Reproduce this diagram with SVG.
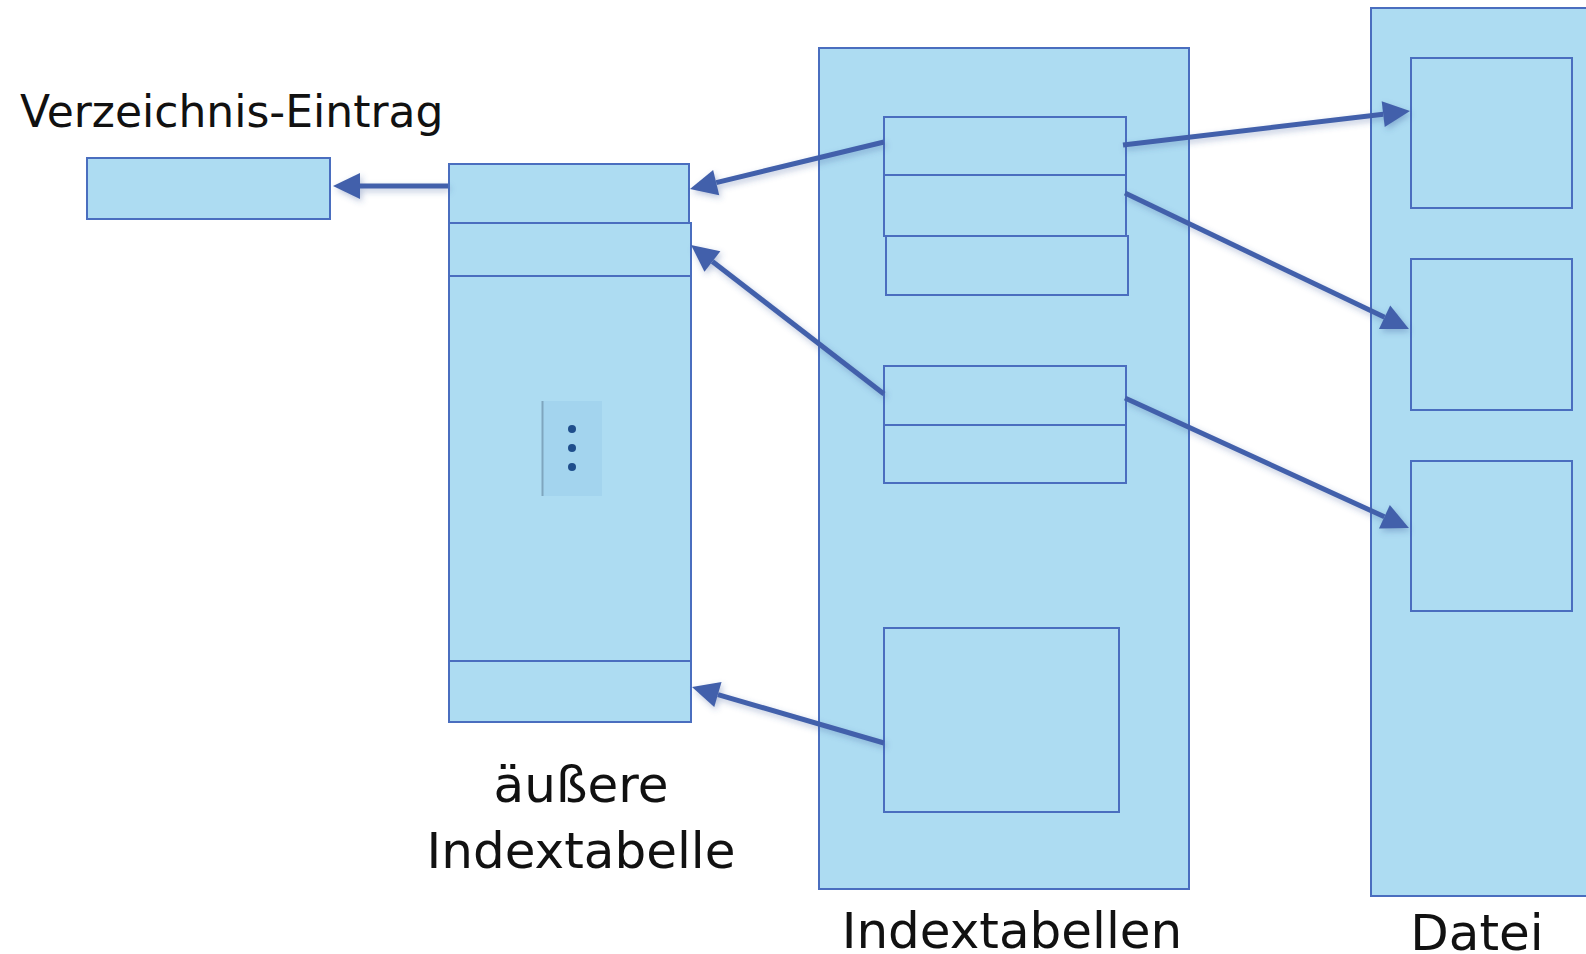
<svg xmlns="http://www.w3.org/2000/svg" width="1586" height="954" viewBox="0 0 1586 954">
  <style>
    .box { fill: #ADDCF2; stroke: #4A6EBF; stroke-width: 2; }
    .lbl { font-family: "DejaVu Sans", Verdana, sans-serif; fill: #111; }
    .big { font-size: 50px; text-anchor: middle; }
    .con { stroke: #4361AB; stroke-width: 5; fill: none; marker-end: url(#head); }
  </style>
  <defs>
    <marker id="head" viewBox="0 -13 28 26" markerWidth="28" markerHeight="26" refX="0" refY="0" orient="auto" markerUnits="userSpaceOnUse" overflow="visible">
      <path d="M0,-13 L27,0 L0,13 z" fill="#4361AB"/>
    </marker>
    <filter id="soft" x="-10%" y="-30%" width="120%" height="160%">
      <feDropShadow dx="2" dy="3" stdDeviation="3" flood-color="#3A5A9A" flood-opacity="0.35"/>
    </filter>
  </defs>

  <rect width="1586" height="954" fill="#FFFFFF"/>

  <!-- directory entry -->
  <g id="verzeichnis-eintrag">
    <text class="lbl" x="20" y="127" font-size="44">Verzeichnis-Eintrag</text>
    <rect class="box" x="87" y="158" width="243" height="61"/>
  </g>

  <!-- outer index table -->
  <g id="aeussere-indextabelle">
    <rect class="box" x="449" y="223" width="242" height="499"/>
    <rect class="box" x="449" y="164" width="240" height="59"/>
    <line x1="449" y1="276" x2="691" y2="276" stroke="#4A6EBF" stroke-width="2"/>
    <line x1="449" y1="661" x2="691" y2="661" stroke="#4A6EBF" stroke-width="2"/>
    <rect x="542" y="401" width="60" height="95" fill="#A3D4EE"/>
    <line x1="542.5" y1="401" x2="542.5" y2="496" stroke="#7FA6BE" stroke-width="2"/>
    <circle cx="572" cy="429" r="4" fill="#1F4E8C"/>
    <circle cx="572" cy="448" r="4" fill="#1F4E8C"/>
    <circle cx="572" cy="467" r="4" fill="#1F4E8C"/>
    <text class="lbl big" x="581" y="802">äußere</text>
    <text class="lbl big" x="581" y="868">Indextabelle</text>
  </g>

  <!-- inner index tables -->
  <g id="indextabellen">
    <rect class="box" x="819" y="48" width="370" height="841"/>
    <rect class="box" x="886" y="236" width="242" height="59"/>
    <rect class="box" x="884" y="117" width="242" height="58"/>
    <rect class="box" x="884" y="175" width="242" height="61"/>
    <rect class="box" x="884" y="366" width="242" height="59"/>
    <rect class="box" x="884" y="425" width="242" height="58"/>
    <rect class="box" x="884" y="628" width="235" height="184"/>
    <text class="lbl big" x="1012" y="948">Indextabellen</text>
  </g>

  <!-- file blocks -->
  <g id="datei">
    <rect class="box" x="1371" y="8" width="230" height="888"/>
    <rect class="box" x="1411" y="58" width="161" height="150"/>
    <rect class="box" x="1411" y="259" width="161" height="151"/>
    <rect class="box" x="1411" y="461" width="161" height="150"/>
    <text class="lbl big" x="1477" y="950">Datei</text>
  </g>

  <!-- pointers -->
  <g id="connectors" filter="url(#soft)">
    <line class="con" x1="448" y1="186" x2="360" y2="186"/>
    <line class="con" x1="884" y1="142" x2="716.2" y2="182.6"/>
    <line class="con" x1="884" y1="394" x2="712.4" y2="261.5"/>
    <line class="con" x1="884" y1="743" x2="717.9" y2="694.6"/>
    <line class="con" x1="1123" y1="145" x2="1383.2" y2="114.2"/>
    <line class="con" x1="1125" y1="193" x2="1384.6" y2="317.3"/>
    <line class="con" x1="1125" y1="398" x2="1384.4" y2="516.8"/>
  </g>
</svg>
